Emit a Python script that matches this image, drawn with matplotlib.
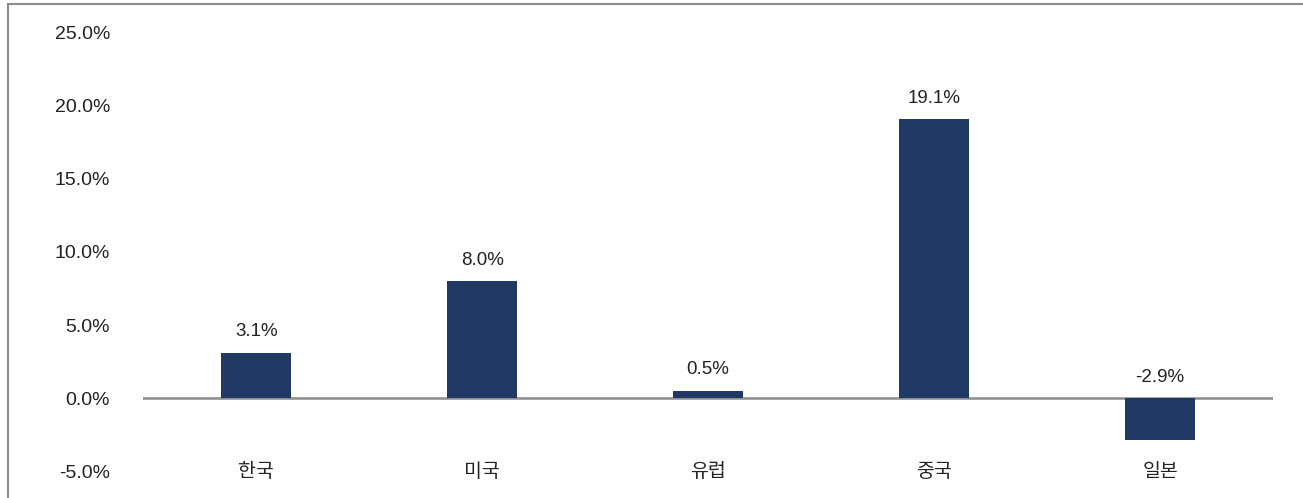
import matplotlib.pyplot as plt
from matplotlib.patches import Rectangle
from matplotlib.ticker import FuncFormatter

plt.rcParams['font.family'] = ['Liberation Sans', 'Noto Sans CJK KR', 'DejaVu Sans']

regions = ['한국', '미국', '유럽', '중국', '일본']
growth = [3.1, 8.0, 0.5, 19.1, -2.9]
bar_color = '#1f3864'

fig = plt.figure(figsize=(13.03, 4.98), dpi=100)
ax = fig.add_axes([0.11, 0.054, 0.867, 0.88])

x = range(len(regions))
ax.bar(x, growth, width=0.31, color=bar_color, zorder=3)
ax.axhline(0, color='#8c8c8c', linewidth=1.8, zorder=2)

for i, v in enumerate(growth):
    ax.annotate(f'{v:.1f}%', (i, max(v, 0)), xytext=(0, 9), textcoords='offset points',
                ha='center', va='bottom', fontsize=13.5, color='#222222')
    ax.text(i, 0.0, regions[i], transform=ax.get_xaxis_transform(), ha='center', va='center',
            fontsize=14, color='#222222', family=['Noto Sans CJK KR', 'DejaVu Sans'])

ax.set_xlim(-0.5, len(regions) - 0.5)
ax.set_ylim(-5, 25)
ax.set_yticks([-5, 0, 5, 10, 15, 20, 25])
ax.yaxis.set_major_formatter(FuncFormatter(lambda v, p: f'{v:.1f}%'))
ax.tick_params(axis='y', length=0, pad=24, labelsize=14, labelcolor='#222222')
ax.set_xticks([])
for s in ax.spines.values():
    s.set_visible(False)

fig.patches.append(Rectangle((8 / 1303, -0.01), 1.0, 1 - 4 / 498 + 0.01, transform=fig.transFigure,
                             fill=False, edgecolor='#8c8c8c', linewidth=1.5))

fig.savefig('out.png', dpi=100)
